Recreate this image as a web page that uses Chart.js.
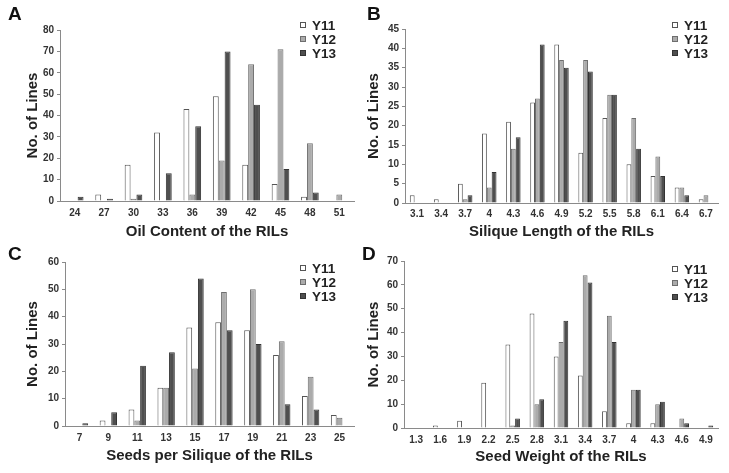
<!DOCTYPE html>
<html>
<head>
<meta charset="utf-8">
<script src="https://cdn.jsdelivr.net/npm/chart.js"></script>
<style>
  body { margin: 0; background: #fff; width: 729px; height: 473px; position: relative; overflow: hidden; font-family: 'Liberation Sans', Arial, sans-serif; }
  .panel { position: absolute; }
  .letter { position: absolute; font-weight: bold; font-size: 19px; color: #111; }
  .legend { position: absolute; font-weight: bold; font-size: 13.5px; color: #222; }
  .legend .row { display: flex; align-items: center; height: 14px; }
  .legend .sw { width: 4px; height: 4px; border: 1px solid; margin-right: 6px; }
</style>
</head>
<body>
<script>
const seriesNames = ['Y11', 'Y12', 'Y13'];

// A: oil content
const oilCats = ['24', '27', '30', '33', '36', '39', '42', '45', '48', '51'];
const oilY11 = [0, 3, 17, 32, 43, 49, 17, 8, 2, 0];
const oilY12 = [0, 0, 1, 0, 3, 19, 64, 71, 27, 3];
const oilY13 = [2, 1, 3, 13, 35, 70, 45, 15, 4, 0];

// B: silique length
const silCats = ['3.1', '3.4', '3.7', '4', '4.3', '4.6', '4.9', '5.2', '5.5', '5.8', '6.1', '6.4', '6.7'];
const silY11 = [2, 1, 5, 18, 21, 26, 41, 13, 22, 10, 7, 4, 1];
const silY12 = [0, 0, 1, 4, 14, 27, 37, 37, 28, 22, 12, 4, 2];
const silY13 = [0, 0, 2, 8, 17, 41, 35, 34, 28, 14, 7, 2, 0];

// C: seeds per silique
const seedCats = ['7', '9', '11', '13', '15', '17', '19', '21', '23', '25'];
const seedY11 = [0, 2, 6, 14, 36, 38, 35, 26, 11, 4];
const seedY12 = [0, 0, 2, 14, 21, 49, 50, 31, 18, 3];
const seedY13 = [1, 5, 22, 27, 54, 35, 30, 8, 6, 0];

// D: seed weight
const wtCats = ['1.3', '1.6', '1.9', '2.2', '2.5', '2.8', '3.1', '3.4', '3.7', '4', '4.3', '4.6', '4.9'];
const wtY11 = [0, 1, 3, 19, 35, 48, 30, 22, 7, 2, 2, 0, 0];
const wtY12 = [0, 0, 0, 0, 1, 10, 36, 64, 47, 16, 10, 4, 0];
const wtY13 = [0, 0, 0, 0, 4, 12, 45, 61, 36, 16, 11, 2, 1];

const styles = [
  { fill: '#ffffff', border: '#555555' },
  { fill: '#ababab', border: '#6e6e6e' },
  { fill: '#4f4f4f', border: '#333333' },
];

const FONT = "'Liberation Sans', Arial, sans-serif";

const makePanel = (cfg) => {
  const wrap = document.createElement('div');
  wrap.className = 'panel';
  wrap.style.left = cfg.left + 'px';
  wrap.style.top = cfg.top + 'px';
  const canvas = document.createElement('canvas');
  canvas.width = cfg.width;
  canvas.height = cfg.height;
  wrap.appendChild(canvas);
  document.body.appendChild(wrap);

  const letter = document.createElement('div');
  letter.className = 'letter';
  letter.textContent = cfg.letter;
  letter.style.left = cfg.letterPos[0] + 'px';
  letter.style.top = cfg.letterPos[1] + 'px';
  document.body.appendChild(letter);

  const legend = document.createElement('div');
  legend.className = 'legend';
  legend.style.left = cfg.legendPos[0] + 'px';
  legend.style.top = cfg.legendPos[1] + 'px';
  legend.innerHTML = seriesNames.map((name, i) =>
    `<div class="row"><span class="sw" style="background:${styles[i].fill};border-color:${styles[i].border}"></span>${name}</div>`
  ).join('');
  document.body.appendChild(legend);

  return new Chart(canvas, {
    type: 'bar',
    data: {
      labels: cfg.cats,
      datasets: cfg.series.map((values, i) => ({
        label: seriesNames[i],
        data: values,
        backgroundColor: styles[i].fill,
        borderColor: styles[i].border,
        borderWidth: 1,
        categoryPercentage: 0.6,
        barPercentage: 1.0,
      })),
    },
    options: {
      responsive: false,
      animation: false,
      layout: { padding: { left: cfg.pad[0], top: cfg.pad[1], right: cfg.pad[2], bottom: 0 } },
      plugins: { legend: { display: false }, tooltip: { enabled: false } },
      scales: {
        x: {
          grid: { display: false, drawTicks: false },
          border: { color: '#8a8a8a' },
          ticks: { color: '#333', padding: cfg.xTickPad, maxRotation: 0, autoSkip: false, font: { family: FONT, size: 10, weight: 'bold' } },
          title: { display: true, text: cfg.xTitle, color: '#222', padding: 0, font: { family: FONT, size: 15, weight: 'bold' } },
          afterFit: (scale) => { scale.height = cfg.xHeight; },
        },
        y: {
          min: 0,
          max: cfg.max,
          grid: { drawOnChartArea: false, drawTicks: true, tickLength: 3, color: '#8a8a8a' },
          border: { color: '#8a8a8a' },
          ticks: { stepSize: cfg.step, color: '#333', padding: 3, font: { family: FONT, size: 10, weight: 'bold' } },
          title: { display: true, text: 'No. of Lines', color: '#222', padding: 0, font: { family: FONT, size: 15, weight: 'bold' } },
          afterFit: (scale) => { scale.width = cfg.yWidth; },
        },
      },
    },
  });
};

const init = () => {
  makePanel({
    letter: 'A', letterPos: [8, 3], legendPos: [300, 18],
    left: 0, top: 0, width: 364, height: 241,
    pad: [24, 30, 10], yWidth: 36, xHeight: 40, xTickPad: 6,
    cats: oilCats, series: [oilY11, oilY12, oilY13], max: 80, step: 10,
    xTitle: 'Oil Content of the RILs',
  });
  makePanel({
    letter: 'B', letterPos: [367, 3], legendPos: [672, 18],
    left: 365, top: 0, width: 364, height: 241,
    pad: [0, 29, 11], yWidth: 40, xHeight: 38, xTickPad: 5,
    cats: silCats, series: [silY11, silY12, silY13], max: 45, step: 5,
    xTitle: 'Silique Length of the RILs',
  });
  makePanel({
    letter: 'C', letterPos: [8, 243], legendPos: [300, 261],
    left: 0, top: 236, width: 364, height: 229,
    pad: [24, 26, 10], yWidth: 41, xHeight: 39, xTickPad: 6,
    cats: seedCats, series: [seedY11, seedY12, seedY13], max: 60, step: 10,
    xTitle: 'Seeds per Silique of the RILs',
  });
  makePanel({
    letter: 'D', letterPos: [362, 243], legendPos: [672, 262],
    left: 365, top: 236, width: 364, height: 230,
    pad: [0, 25, 11], yWidth: 39, xHeight: 38, xTickPad: 6,
    cats: wtCats, series: [wtY11, wtY12, wtY13], max: 70, step: 10,
    xTitle: 'Seed Weight of the RILs',
  });
};

window.addEventListener('DOMContentLoaded', init);
</script>
</body>
</html>
